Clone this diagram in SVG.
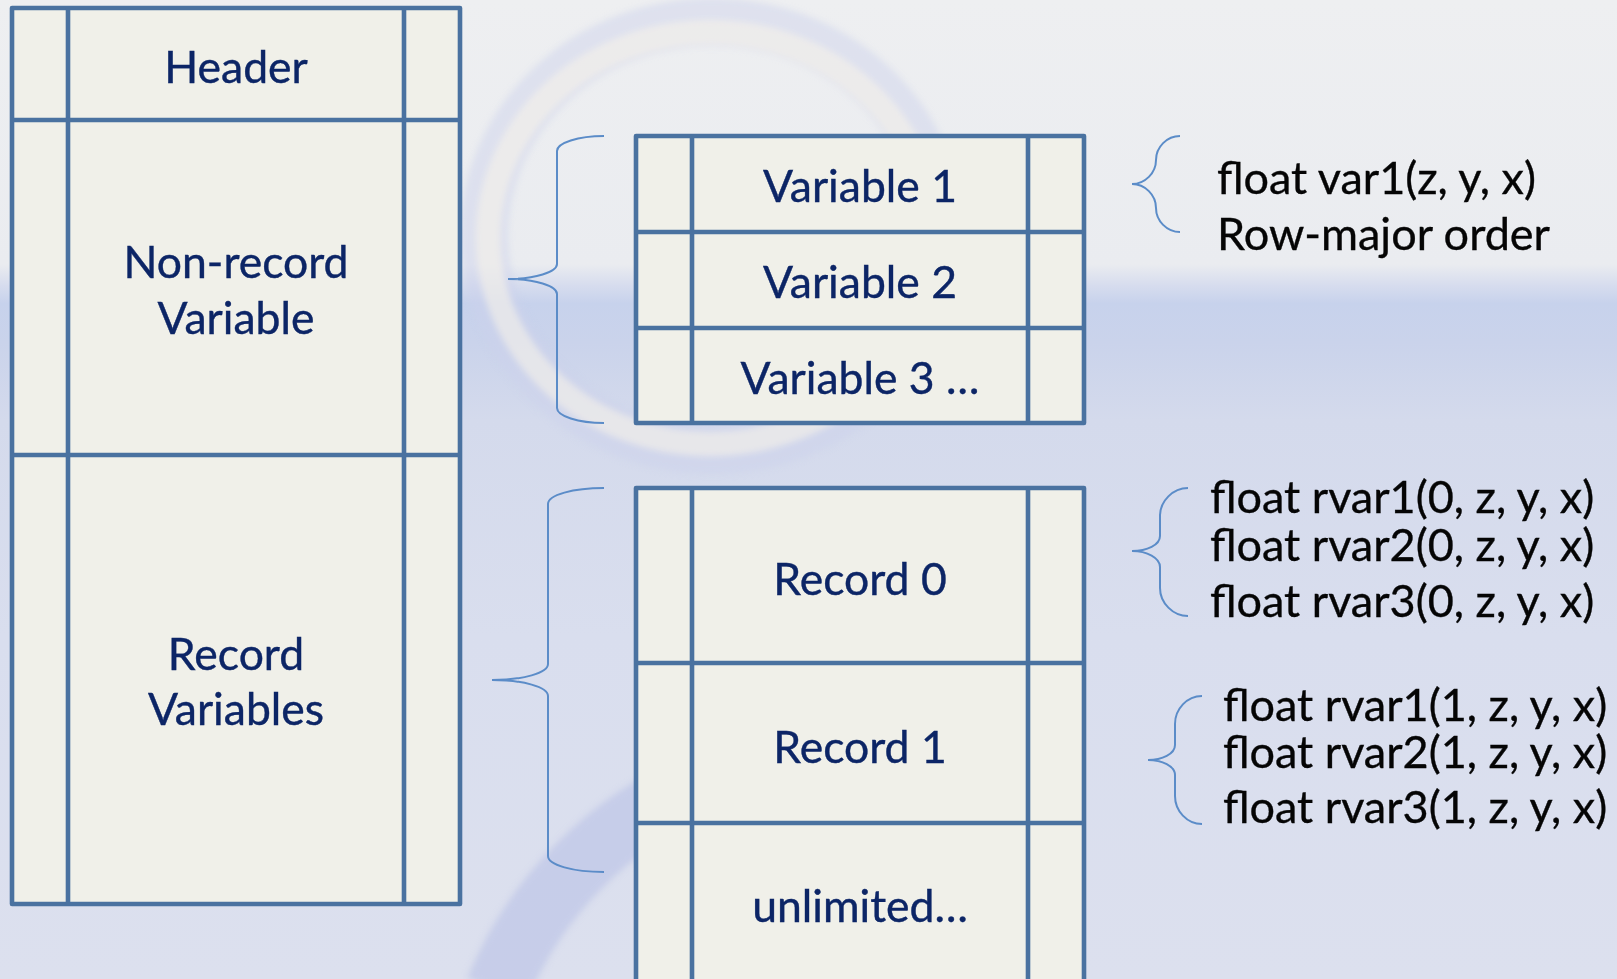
<svg xmlns="http://www.w3.org/2000/svg" width="1617" height="979" viewBox="0 0 1617 979">
  <defs>
    <linearGradient id="sky" x1="0" y1="0" x2="0" y2="1">
      <stop offset="0" stop-color="#EEEFF1"/>
      <stop offset="0.27" stop-color="#EAECF0"/>
      <stop offset="0.292" stop-color="#D6DCEE"/>
      <stop offset="0.31" stop-color="#C7D2EC"/>
      <stop offset="0.35" stop-color="#CAD3EB"/>
      <stop offset="0.43" stop-color="#D4DAEC"/>
      <stop offset="0.65" stop-color="#D9DEEE"/>
      <stop offset="1" stop-color="#DCE0EE"/>
    </linearGradient>
    <filter id="soft" x="-20%" y="-20%" width="140%" height="140%">
      <feGaussianBlur stdDeviation="3"/>
    </filter>
    <style>
      .frame { fill: #F0F0E9; stroke: #4A72A0; stroke-width: 4.6; stroke-linejoin: round; }
      .rule { stroke: #4A72A0; stroke-width: 4.6; fill: none; }
      .label { font-family: Lato, "Open Sans", "Liberation Sans", sans-serif; font-size: 44.5px; fill: #0C2566; stroke: #0C2566; stroke-width: 0.4; text-anchor: middle; }
      .note { font-family: Lato, "Open Sans", "Liberation Sans", sans-serif; font-size: 45px; fill: #050505; stroke: #050505; stroke-width: 0.35; }
      .brace { fill: none; stroke: #5B8CC8; stroke-width: 2; }
    </style>
  </defs>

  <!-- backdrop -->
  <g id="backdrop">
    <rect x="0" y="0" width="1617" height="979" fill="url(#sky)"/>
    <g filter="url(#soft)">
      <ellipse cx="712" cy="236" rx="228" ry="214" fill="none" stroke="#CDD1EA" stroke-width="48" opacity="0.45"/>
      <ellipse cx="710" cy="238" rx="222" ry="206" fill="none" stroke="#F5F4EA" stroke-width="24" opacity="0.6"/>
      <path d="M 497 990 A 380 380 0 0 1 700 784" fill="none" stroke="#BCC3E7" stroke-width="64" opacity="0.65"/>
    </g>
  </g>

  <!-- file layout column -->
  <g id="file-layout">
    <rect class="frame" x="12" y="8" width="448" height="896"/>
    <line class="rule" x1="68" y1="8" x2="68" y2="904"/>
    <line class="rule" x1="404" y1="8" x2="404" y2="904"/>
    <line class="rule" x1="12" y1="120" x2="460" y2="120"/>
    <line class="rule" x1="12" y1="455" x2="460" y2="455"/>
    <text class="label" x="236" y="83">Header</text>
    <text class="label" x="236" y="278">Non-record</text>
    <text class="label" x="236" y="334">Variable</text>
    <text class="label" x="236" y="670">Record</text>
    <text class="label" x="236" y="725">Variables</text>
  </g>

  <!-- non-record variables -->
  <g id="nonrecord-vars">
    <rect class="frame" x="636" y="136" width="448" height="287"/>
    <line class="rule" x1="692" y1="136" x2="692" y2="423"/>
    <line class="rule" x1="1028" y1="136" x2="1028" y2="423"/>
    <line class="rule" x1="636" y1="232" x2="1084" y2="232"/>
    <line class="rule" x1="636" y1="328" x2="1084" y2="328"/>
    <text class="label" x="860" y="202">Variable 1</text>
    <text class="label" x="860" y="298">Variable 2</text>
    <text class="label" x="860" y="394">Variable 3 …</text>
  </g>

  <!-- record variables -->
  <g id="record-vars">
    <rect class="frame" x="636" y="488" width="448" height="520"/>
    <line class="rule" x1="692" y1="488" x2="692" y2="1008"/>
    <line class="rule" x1="1028" y1="488" x2="1028" y2="1008"/>
    <line class="rule" x1="636" y1="663" x2="1084" y2="663"/>
    <line class="rule" x1="636" y1="823" x2="1084" y2="823"/>
    <text class="label" x="860" y="595">Record 0</text>
    <text class="label" x="860" y="763">Record 1</text>
    <text class="label" x="860" y="922">unlimited…</text>
  </g>

  <!-- declarations -->
  <g id="nonrecord-decl">
    <text class="note" x="1217" y="194">float var1(z, y, x)</text>
    <text class="note" x="1217" y="250">Row-major order</text>
  </g>
  <g id="record0-decl">
    <text class="note" x="1210" y="513">float rvar1(0, z, y, x)</text>
    <text class="note" x="1210" y="561">float rvar2(0, z, y, x)</text>
    <text class="note" x="1210" y="617">float rvar3(0, z, y, x)</text>
  </g>
  <g id="record1-decl">
    <text class="note" x="1223" y="721">float rvar1(1, z, y, x)</text>
    <text class="note" x="1223" y="768">float rvar2(1, z, y, x)</text>
    <text class="note" x="1223" y="823">float rvar3(1, z, y, x)</text>
  </g>

  <!-- braces -->
  <g id="connectors">
    <path class="brace" d="M604,136 C578,136 557,143 557,151 L557,264 C557,272 535,279 508,279 C535,279 557,286 557,294 L557,408 C557,416 578,423 604,423"/>
    <path class="brace" d="M604,488 C573,488 548,495 548,504 L548,664 C548,673 523,680 492,680 C523,680 548,687 548,696 L548,856 C548,865 573,872 604,872"/>
    <path class="brace" d="M1180,136 C1167,136 1156,147 1156,160 C1156,173 1145,184 1132,184 C1145,184 1156,195 1156,208 C1156,221 1167,232 1180,232"/>
    <path class="brace" d="M1188,488 C1173,488 1160,501 1160,516 L1160,536 C1160,545 1147,551 1132,551 C1147,551 1160,558 1160,567 L1160,588 C1160,603 1173,616 1188,616"/>
    <path class="brace" d="M1202,696 C1187,696 1175,709 1175,724 L1175,745 C1175,754 1162,760 1148,760 C1162,760 1175,766 1175,775 L1175,796 C1175,811 1187,824 1202,824"/>
  </g>
</svg>
